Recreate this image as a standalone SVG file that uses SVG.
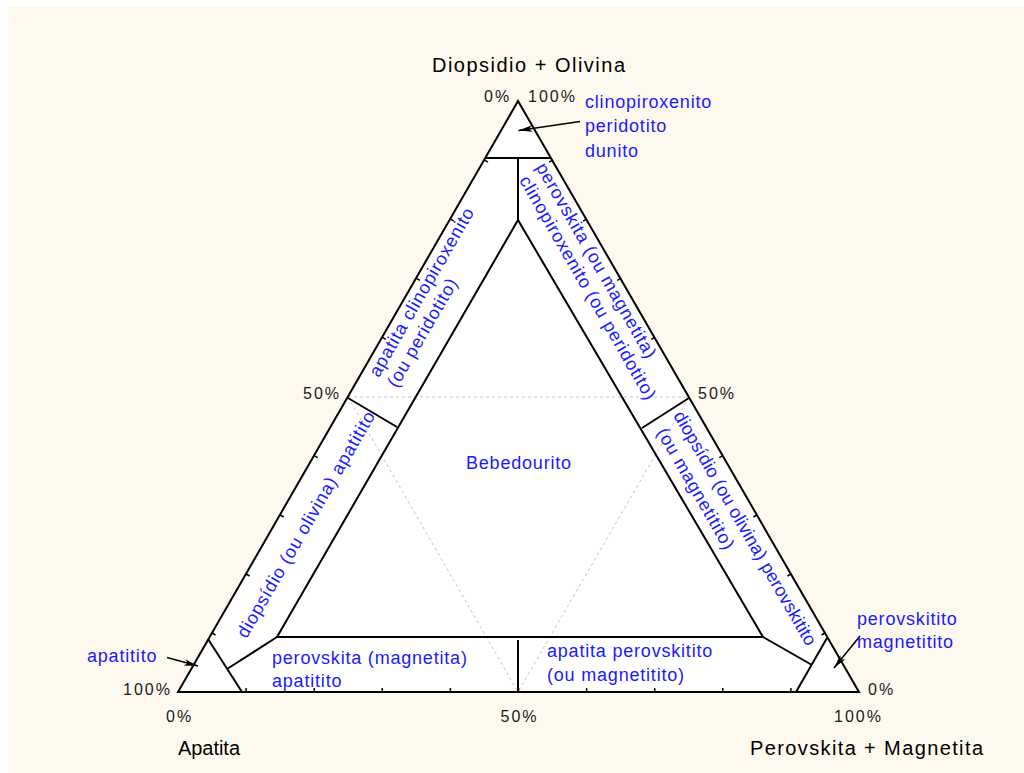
<svg xmlns="http://www.w3.org/2000/svg" width="1024" height="773" viewBox="0 0 1024 773">
  <style>
    .frame { fill: none; stroke: #000; stroke-width: 2; stroke-linejoin: miter; }
    .div { fill: none; stroke: #000; stroke-width: 2; }
    .grid { fill: none; stroke: #c4c4c4; stroke-width: 1; stroke-dasharray: 3 3; }
    .tick { fill: none; stroke: #000; stroke-width: 1.5; }
    .lead { fill: none; stroke: #000; stroke-width: 1.5; }
    .num { font-family: "Liberation Sans", Arial, sans-serif; font-size: 16px; letter-spacing: 2px; fill: #1a1a1a; }
    .apex { font-family: "Liberation Sans", Arial, sans-serif; font-size: 20px; fill: #000; }
    .lbl { font-family: "Liberation Sans", Arial, sans-serif; font-size: 18px; letter-spacing: 0.8px; fill: #1a1aff; }
  </style>
  <defs>
    <marker id="head" markerUnits="userSpaceOnUse" markerWidth="16" markerHeight="10" refX="14" refY="4" orient="auto">
      <path d="M0,0.8 L14,4 L0,7.2 L3.5,4 Z" fill="#000"/>
    </marker>
  </defs>

  <!-- page background -->
  <rect x="0" y="0" width="1024" height="773" fill="#ffffff"/>
  <rect x="8" y="7" width="1016" height="766" fill="#fef9ef"/>

  <!-- ternary field -->
  <g id="field">
    <polygon points="178,692 518,101 859,692" fill="#ffffff"/>
    <!-- 50% guide lines -->
    <path class="grid" d="M348,397 L689,397 M348,397 L518,692 M689,397 L518,692"/>
  </g>

  <!-- class boundaries -->
  <g id="connectors">
    <path class="div" d="M486,158 L551,158"/>
    <path class="div" d="M518,158 L518,220"/>
    <path class="div" d="M518,220 L277,637 L763,637 Z"/>
    <path class="div" d="M348,398 L397,427"/>
    <path class="div" d="M689,398 L642,428"/>
    <path class="div" d="M518,640 L518,692"/>
    <path class="div" d="M208,639 L242,692"/>
    <path class="div" d="M227,669 L277,637"/>
    <path class="div" d="M827,638 L796,692"/>
    <path class="div" d="M812,665 L763,637"/>
    <!-- leader arrows -->
    <path class="lead" d="M580,121.5 L518.5,130.5" marker-end="url(#head)"/>
    <path class="lead" d="M167,657.5 L198,666" marker-end="url(#head)"/>
    <path class="lead" d="M860,636 L834,668" marker-end="url(#head)"/>
  </g>

  <!-- outline and ticks -->
  <g id="axes">
    <polygon class="frame" points="178,692 518,101 859,692"/>
    <path class="tick" d="M246.1,692 v-4 M314.2,692 v-4 M382.3,692 v-4 M450.4,692 v-4 M518.5,692 v-4 M586.6,692 v-4 M654.7,692 v-4 M722.8,692 v-4 M790.9,692 v-4
      M212,633 l3.5,2 M246.1,574 l3.5,2 M280.2,515 l3.5,2 M314.2,455.6 l3.5,2 M382.3,337.4 l3.5,2 M416.4,278.3 l3.5,2 M450.4,219.2 l3.5,2 M484.5,160.1 l3.5,2
      M825,633 l-3.5,2 M790.9,574 l-3.5,2 M756.9,515 l-3.5,2 M722.8,455.6 l-3.5,2 M654.7,337.4 l-3.5,2 M620.7,278.3 l-3.5,2 M586.6,219.2 l-3.5,2 M552.6,160.1 l-3.5,2"/>
  </g>

  <!-- axis labels -->
  <g id="axis-labels">
    <text class="apex" x="432" y="72" textLength="193" lengthAdjust="spacing">Diopsidio + Olivina</text>
    <text class="apex" x="178" y="755" textLength="62" lengthAdjust="spacing">Apatita</text>
    <text class="apex" x="750" y="755" textLength="233" lengthAdjust="spacing">Perovskita + Magnetita</text>
    <text class="num" x="484" y="101.5">0%</text>
    <text class="num" x="528" y="101.5">100%</text>
    <text class="num" x="303" y="398.5">50%</text>
    <text class="num" x="698" y="398.5">50%</text>
    <text class="num" x="123" y="695">100%</text>
    <text class="num" x="868" y="695">0%</text>
    <text class="num" x="166" y="722">0%</text>
    <text class="num" x="500.5" y="722">50%</text>
    <text class="num" x="834" y="722">100%</text>
  </g>

  <!-- rock-type fields -->
  <g id="node-dunito">
    <text class="lbl" x="585" y="108">clinopiroxenito</text>
    <text class="lbl" x="585" y="132">peridotito</text>
    <text class="lbl" x="585" y="157">dunito</text>
  </g>
  <g id="node-apatita-clinopiroxenito">
    <text class="lbl" transform="translate(378.7,378.3) rotate(-60)">apatita clinopiroxenito</text>
    <text class="lbl" transform="translate(396.9,388.8) rotate(-60)">(ou peridotito)</text>
  </g>
  <g id="node-perovskita-clinopiroxenito">
    <text class="lbl" transform="translate(535.4,167.2) rotate(60)">perovskita (ou magnetita)</text>
    <text class="lbl" transform="translate(518.8,180.3) rotate(60)">clinopiroxenito (ou peridotito)</text>
  </g>
  <g id="node-diopsidio-apatitito">
    <text class="lbl" transform="translate(246.6,639.2) rotate(-60)">diopsídio (ou olivina) apatitito</text>
  </g>
  <g id="node-diopsidio-perovskitito">
    <text class="lbl" transform="translate(673.1,415.6) rotate(60)" textLength="268" lengthAdjust="spacing">diopsídio (ou olivina) perovskitito</text>
    <text class="lbl" transform="translate(656.2,432.3) rotate(60)">(ou magnetitito)</text>
  </g>
  <g id="node-bebedourito">
    <text class="lbl" x="466" y="469">Bebedourito</text>
  </g>
  <g id="node-perovskita-apatitito">
    <text class="lbl" x="272" y="664">perovskita (magnetita)</text>
    <text class="lbl" x="272" y="687">apatitito</text>
  </g>
  <g id="node-apatita-perovskitito">
    <text class="lbl" x="547" y="657">apatita perovskitito</text>
    <text class="lbl" x="547" y="681">(ou magnetitito)</text>
  </g>
  <g id="node-apatitito">
    <text class="lbl" x="87" y="662">apatitito</text>
  </g>
  <g id="node-perovskitito">
    <text class="lbl" x="857" y="625">perovskitito</text>
    <text class="lbl" x="857" y="648">magnetitito</text>
  </g>
</svg>
